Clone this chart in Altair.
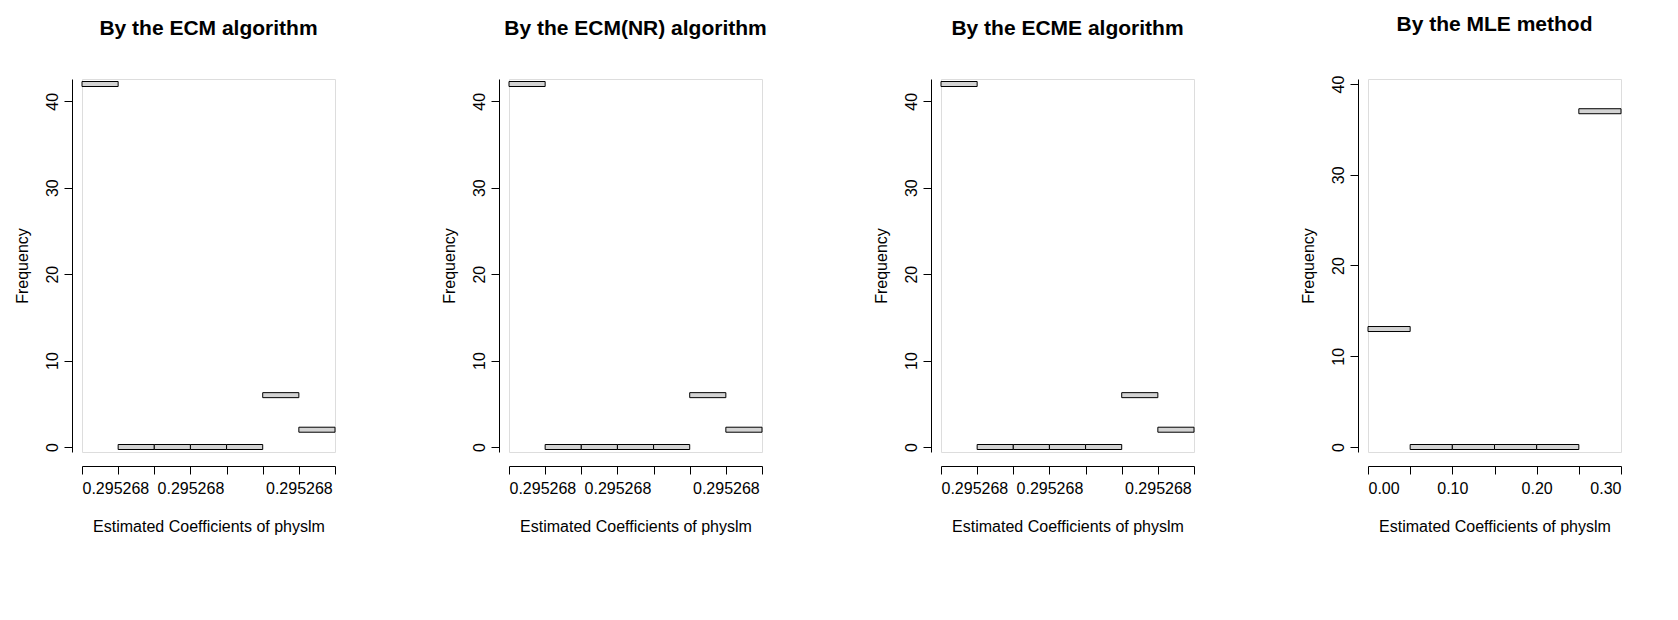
import pandas as pd
import altair as alt

# histogram counts
titles = ["By the ECM algorithm", "By the ECM(NR) algorithm",
          "By the ECME algorithm", "By the MLE method"]
ecm_counts = [42, 0, 0, 0, 0, 6, 2]
mle_counts = [13, 0, 0, 0, 0, 37]
mle_edges = [0.00, 0.05, 0.10, 0.15, 0.20, 0.25, 0.30]

FONT = "Liberation Sans"
W, H = 253, 373


def panel(counts, edges, title, ydom, xticks, xlabel_expr, xdom):
    df = pd.DataFrame({"lo": edges[:-1], "hi": edges[1:], "count": counts})
    return alt.Chart(df).mark_bar(color="#d3d3d3", stroke="black", strokeWidth=1).encode(
        x=alt.X("lo:Q", scale=alt.Scale(domain=xdom, nice=False, zero=False),
                axis=alt.Axis(values=xticks, labelExpr=xlabel_expr, title="Estimated Coefficients of physlm",
                              offset=14, grid=False, tickSize=8, domainColor="black", tickColor="black",
                              labelFontSize=16, titleFontSize=16, titlePadding=22, labelPadding=6,
                              labelOverlap=False, labelColor="black", titleFontWeight="normal")),
        x2="hi:Q",
        y=alt.Y("count:Q", scale=alt.Scale(domain=ydom, nice=False),
                axis=alt.Axis(values=[0, 10, 20, 30, 40], title="Frequency", offset=10, grid=False,
                              tickSize=8, domainColor="black", tickColor="black",
                              labelAngle=270, labelAlign="center", labelBaseline="bottom",
                              labelFontSize=16, titleFontSize=16, titlePadding=14, labelPadding=4,
                              labelColor="black", titleFontWeight="normal")),
    ).properties(width=W, height=H,
                 title=alt.TitleParams(title, fontSize=21, fontWeight="bold", offset=40, font=FONT))


idx_edges = list(range(8))
ecm_expr = "datum.value % 3 == 0 ? '0.295268' : ''"
charts = [panel(ecm_counts, idx_edges, t, [0, 42], list(range(8)), ecm_expr, [0, 7]) for t in titles[:3]]
charts.append(panel(mle_counts, mle_edges, titles[3], [0, 40], mle_edges,
                    "round(datum.value * 100) % 10 == 0 ? format(datum.value, '.2f') : ''",
                    [0, 0.3]))

chart = alt.hconcat(*charts, spacing=104).configure_view(stroke=None).configure(
    font=FONT, background="white").configure_title(anchor="middle", color="black")
chart.save("out.html", embed_options={"renderer": "svg", "actions": False})
